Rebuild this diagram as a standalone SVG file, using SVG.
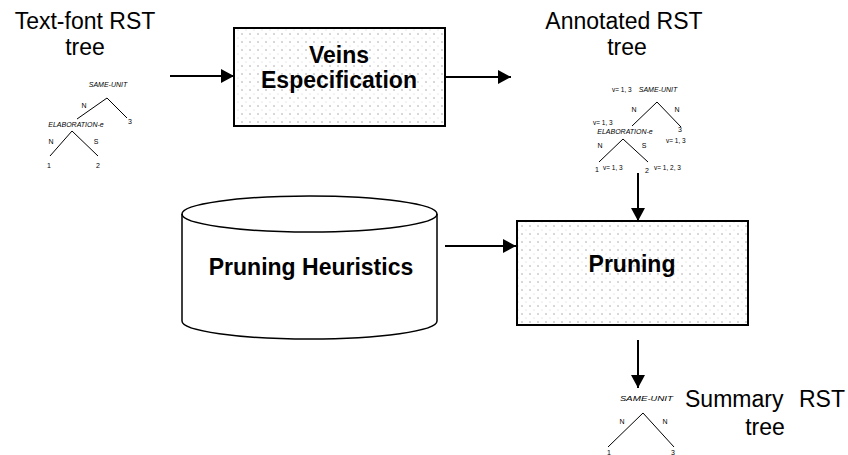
<svg xmlns="http://www.w3.org/2000/svg" width="848" height="455" viewBox="0 0 848 455">
<defs>
<pattern id="dots" x="0" y="0" width="8" height="8" patternUnits="userSpaceOnUse">
<rect width="8" height="8" fill="#ffffff"/>
<circle cx="2" cy="2" r="0.8" fill="#a8a8a8"/>
<circle cx="6" cy="6" r="0.6" fill="#cccccc"/>
</pattern>
<marker id="ah" markerUnits="userSpaceOnUse" markerWidth="14" markerHeight="14" refX="13" refY="7" orient="auto">
<path d="M0,0 L13,7 L0,14 Z" fill="#000"/>
</marker>
</defs>
<style>
.big{font-family:"Liberation Sans",Arial,sans-serif;font-size:23px;fill:#000}
.bold{font-family:"Liberation Sans",Arial,sans-serif;font-size:23px;font-weight:bold;fill:#000}
.rel{font-family:"Liberation Sans",Arial,sans-serif;font-size:7px;font-style:italic;fill:#000}
.lbl{font-family:"Liberation Sans",Arial,sans-serif;font-size:7px;fill:#000}
.v{font-family:"Liberation Sans",Arial,sans-serif;font-size:6.5px;fill:#000}
.tl{stroke:#000;stroke-width:1;fill:none}
.box{fill:url(#dots);stroke:#000;stroke-width:2}
.conn{stroke:#000;stroke-width:2;fill:none;marker-end:url(#ah)}
</style>
<rect width="848" height="455" fill="#fff"/>

<g id="input-tree">
<text class="big" x="85" y="29" text-anchor="middle" font-size="24">Text-font RST</text>
<text class="big" x="85" y="55" text-anchor="middle" font-size="24">tree</text>
<text class="rel" x="108" y="87" text-anchor="middle">SAME-UNIT</text>
<path class="tl" d="M77,119 L107,98 L127,118"/>
<text class="lbl" x="84" y="108" text-anchor="middle">N</text>
<text class="lbl" x="130" y="124" text-anchor="middle">3</text>
<text class="rel" x="76" y="127" text-anchor="middle">ELABORATION-e</text>
<path class="tl" d="M50,156 L72,131 L98,156"/>
<text class="lbl" x="51" y="144" text-anchor="middle">N</text>
<text class="lbl" x="96" y="144" text-anchor="middle">S</text>
<text class="lbl" x="49" y="168" text-anchor="middle">1</text>
<text class="lbl" x="98" y="168" text-anchor="middle">2</text>
</g>

<g id="veins">
<rect class="box" x="234" y="28" width="211" height="98"/>
<text class="bold" x="339" y="63" text-anchor="middle">Veins</text>
<text class="bold" x="339" y="88" text-anchor="middle">Especification</text>
</g>

<g id="annotated-tree">
<text class="big" x="624" y="29" text-anchor="middle">Annotated RST</text>
<text class="big" x="627" y="55" text-anchor="middle">tree</text>
<text class="v" x="612" y="92">v= 1, 3</text>
<text class="rel" x="658" y="92" text-anchor="middle">SAME-UNIT</text>
<path class="tl" d="M632,126 L657,102 L681,127"/>
<text class="lbl" x="634" y="112" text-anchor="middle">N</text>
<text class="lbl" x="677" y="112" text-anchor="middle">N</text>
<text class="v" x="593" y="125">v= 1, 3</text>
<text class="rel" x="625" y="134" text-anchor="middle">ELABORATION-e</text>
<text class="lbl" x="680" y="132" text-anchor="middle">3</text>
<text class="v" x="666" y="143">v= 1, 3</text>
<path class="tl" d="M599,162 L623,139 L648,162"/>
<text class="lbl" x="600" y="148" text-anchor="middle">N</text>
<text class="lbl" x="644" y="148" text-anchor="middle">S</text>
<text class="lbl" x="597" y="172" text-anchor="middle">1</text>
<text class="v" x="603" y="170">v= 1, 3</text>
<text class="lbl" x="647" y="173" text-anchor="middle">2</text>
<text class="v" x="654" y="170">v= 1, 2, 3</text>
</g>

<g id="heuristics">
<path d="M182,214 A127.5,18 0 0,1 437,214 L437,321 A127.5,18 0 0,1 182,321 Z" fill="#fff" stroke="#000" stroke-width="1.5"/>
<path d="M182,214 A127.5,18 0 0,0 437,214" fill="none" stroke="#000" stroke-width="1.5"/>
<text class="bold" x="311" y="275" text-anchor="middle">Pruning Heuristics</text>
</g>

<g id="pruning">
<rect class="box" x="517" y="221" width="231" height="104"/>
<text class="bold" x="632" y="272" text-anchor="middle">Pruning</text>
</g>

<g id="summary-tree">
<text class="rel" x="620" y="401" font-size="9" textLength="53" lengthAdjust="spacingAndGlyphs"><tspan>S</tspan><tspan font-size="7.5">AME</tspan><tspan>-U</tspan><tspan font-size="7.5">NIT</tspan></text>
<path class="tl" d="M608,447 L643,413 L674,447"/>
<text class="lbl" x="622" y="424" text-anchor="middle">N</text>
<text class="lbl" x="665" y="424" text-anchor="middle">N</text>
<text class="lbl" x="609" y="455" text-anchor="middle">1</text>
<text class="lbl" x="673" y="455" text-anchor="middle">3</text>
<text class="big" x="685" y="407">Summary</text>
<text class="big" x="799" y="407">RST</text>
<text class="big" x="765" y="435" text-anchor="middle">tree</text>
</g>

<g id="connectors">
<line class="conn" x1="170" y1="76" x2="234" y2="76"/>
<line class="conn" x1="445" y1="77" x2="511" y2="77"/>
<line class="conn" x1="638" y1="173" x2="638" y2="221"/>
<line class="conn" x1="445" y1="246" x2="516" y2="246"/>
<line class="conn" x1="638" y1="340" x2="638" y2="388"/>
</g>
</svg>
